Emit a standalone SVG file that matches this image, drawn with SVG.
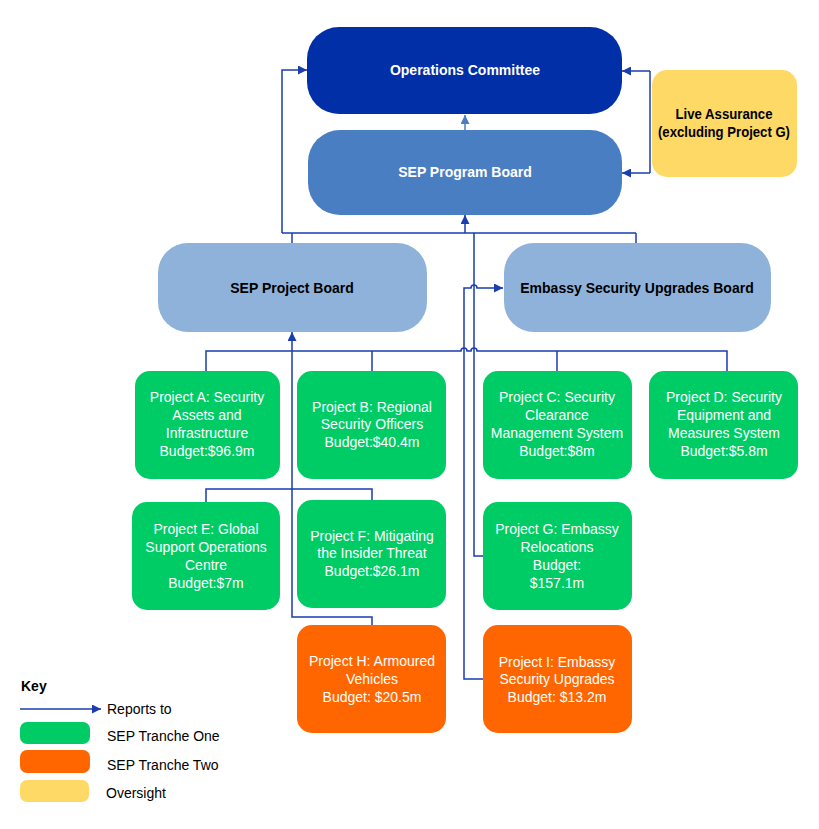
<svg xmlns="http://www.w3.org/2000/svg" width="819" height="829" viewBox="0 0 819 829">
<style>
.t{font-family:"Liberation Sans",Arial,sans-serif;font-size:14px;text-anchor:middle;fill:#ffffff}
.b{font-weight:bold}
.k{fill:#000000}
.kl{font-family:"Liberation Sans",Arial,sans-serif;font-size:14px;fill:#000000}
.c{fill:none;stroke:#1A3DB0;stroke-width:1.5}
.green{fill:#00CC66}
.orange{fill:#FF6600}
.yellow{fill:#FFD966}
</style>
<defs>
<marker id="ar" viewBox="0 0 10 10" refX="10" refY="5" markerWidth="9" markerHeight="9" markerUnits="userSpaceOnUse" orient="auto">
<path d="M0,0 L10,5 L0,10 z" fill="#1A3DB0"/>
</marker>
<marker id="arl" viewBox="0 0 10 10" refX="10" refY="5" markerWidth="9" markerHeight="9" markerUnits="userSpaceOnUse" orient="auto">
<path d="M0,0 L10,5 L0,10 z" fill="#4A7EC3"/>
</marker>
</defs>
<rect width="819" height="829" fill="#ffffff"/>

<g id="connectors">
<path class="c" d="M465,130 V115" style="stroke:#4A7EC3" marker-end="url(#arl)"/>
<path class="c" d="M650,71 V173"/>
<path class="c" d="M650,71 H622" marker-end="url(#ar)"/>
<path class="c" d="M650,173 H622" marker-end="url(#ar)"/>
<path class="c" d="M282,233 H636"/>
<path class="c" d="M282,233 V70 H307" marker-end="url(#ar)"/>
<path class="c" d="M292,243 V233"/>
<path class="c" d="M636,243 V233"/>
<path class="c" d="M465,233 V215" marker-end="url(#ar)"/>
<path class="c" d="M206,371 V351 H461 a3,3 0 0 1 6,0 H471 a3,3 0 0 1 6,0 H727 V371"/>
<path class="c" d="M372,371 V351"/>
<path class="c" d="M557,371 V351"/>
<path class="c" d="M206,502 V489 H372 V500"/>
<path class="c" d="M372,625 V617 H292 V332" marker-end="url(#ar)"/>
<path class="c" d="M483,556 H474 V233"/>
<path class="c" d="M483,679 H464 V288 H471 a3,3 0 0 1 6,0 H503" marker-end="url(#ar)"/>
</g>

<g id="ops">
<rect x="307" y="27" width="315" height="87" rx="32" fill="#002FA7"/>
<text class="t b" x="465" y="75">Operations Committee</text>
</g>
<g id="program-board">
<rect x="308" y="130" width="314" height="85" rx="32" fill="#4A7EC3"/>
<text class="t b" x="465" y="177">SEP Program Board</text>
</g>
<g id="live-assurance">
<rect x="652" y="70" width="145" height="107" rx="15" class="yellow"/>
<text class="t b k" x="724" y="119" textLength="97" lengthAdjust="spacingAndGlyphs">Live Assurance</text>
<text class="t b k" x="724" y="137" textLength="132" lengthAdjust="spacingAndGlyphs">(excluding Project G)</text>
</g>
<g id="sep-project-board">
<rect x="158" y="243" width="269" height="89" rx="30" fill="#8FB2DA"/>
<text class="t b k" x="292" y="293">SEP Project Board</text>
</g>
<g id="embassy-board">
<rect x="504" y="243" width="267" height="89" rx="30" fill="#8FB2DA"/>
<text class="t b k" x="637" y="293">Embassy Security Upgrades Board</text>
</g>

<g id="project-a">
<rect x="135" y="371" width="145" height="108" rx="15" class="green"/>
<text class="t" x="207" y="402">Project A: Security</text>
<text class="t" x="207" y="420">Assets and</text>
<text class="t" x="207" y="438">Infrastructure</text>
<text class="t" x="207" y="456">Budget:$96.9m</text>
</g>
<g id="project-b">
<rect x="297" y="371" width="149" height="108" rx="15" class="green"/>
<text class="t" x="372" y="412">Project B: Regional</text>
<text class="t" x="372" y="429">Security Officers</text>
<text class="t" x="372" y="447">Budget:$40.4m</text>
</g>
<g id="project-c">
<rect x="483" y="371" width="149" height="108" rx="15" class="green"/>
<text class="t" x="557" y="402">Project C: Security</text>
<text class="t" x="557" y="420">Clearance</text>
<text class="t" x="557" y="438">Management System</text>
<text class="t" x="557" y="456">Budget:$8m</text>
</g>
<g id="project-d">
<rect x="649" y="371" width="149" height="108" rx="15" class="green"/>
<text class="t" x="724" y="402">Project D: Security</text>
<text class="t" x="724" y="420">Equipment and</text>
<text class="t" x="724" y="438">Measures System</text>
<text class="t" x="724" y="456">Budget:$5.8m</text>
</g>
<g id="project-e">
<rect x="132" y="502" width="148" height="108" rx="15" class="green"/>
<text class="t" x="206" y="534">Project E: Global</text>
<text class="t" x="206" y="552">Support Operations</text>
<text class="t" x="206" y="570">Centre</text>
<text class="t" x="206" y="588">Budget:$7m</text>
</g>
<g id="project-f">
<rect x="297" y="500" width="149" height="108" rx="15" class="green"/>
<text class="t" x="372" y="541">Project F: Mitigating</text>
<text class="t" x="372" y="558">the Insider Threat</text>
<text class="t" x="372" y="576">Budget:$26.1m</text>
</g>
<g id="project-g">
<rect x="483" y="502" width="149" height="108" rx="15" class="green"/>
<text class="t" x="557" y="534">Project G: Embassy</text>
<text class="t" x="557" y="552">Relocations</text>
<text class="t" x="557" y="570">Budget:</text>
<text class="t" x="557" y="588">$157.1m</text>
</g>
<g id="project-h">
<rect x="297" y="625" width="149" height="108" rx="15" class="orange"/>
<text class="t" x="372" y="666">Project H: Armoured</text>
<text class="t" x="372" y="684">Vehicles</text>
<text class="t" x="372" y="702">Budget: $20.5m</text>
</g>
<g id="project-i">
<rect x="483" y="625" width="149" height="108" rx="15" class="orange"/>
<text class="t" x="557" y="667">Project I: Embassy</text>
<text class="t" x="557" y="684">Security Upgrades</text>
<text class="t" x="557" y="702">Budget: $13.2m</text>
</g>

<g id="key">
<text class="kl b" x="21" y="691">Key</text>
<path class="c" d="M20,709 H101" marker-end="url(#ar)"/>
<text class="kl" x="107" y="714">Reports to</text>
<rect x="20" y="722" width="70" height="22" rx="7" class="green"/>
<text class="kl" x="107" y="741">SEP Tranche One</text>
<rect x="20" y="750" width="70" height="23" rx="7" class="orange"/>
<text class="kl" x="107" y="770">SEP Tranche Two</text>
<rect x="20" y="780" width="69" height="22" rx="7" class="yellow"/>
<text class="kl" x="106" y="798">Oversight</text>
</g>
</svg>
